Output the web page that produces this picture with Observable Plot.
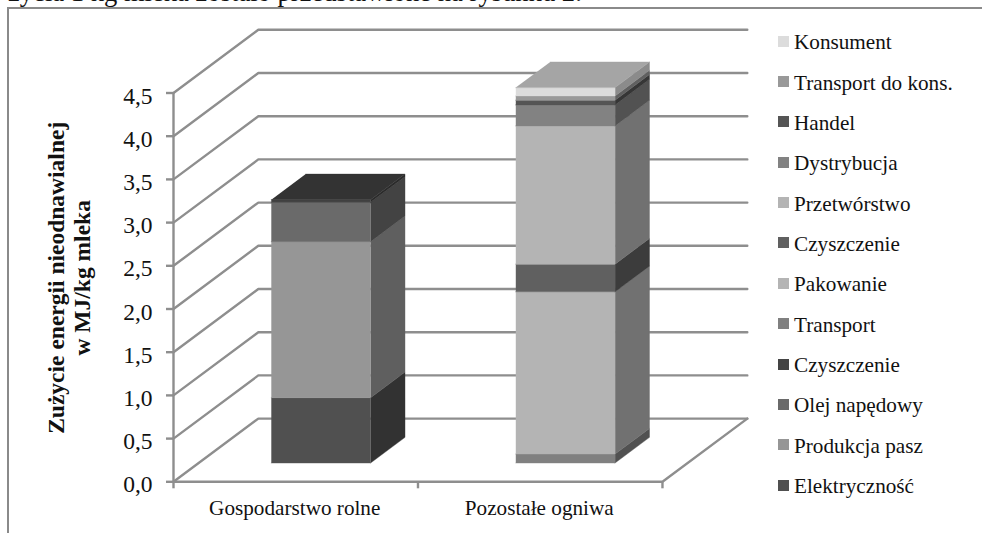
<!DOCTYPE html>
<html>
<head>
<meta charset="utf-8">
<script src="https://cdn.jsdelivr.net/npm/d3@7"></script>
<script src="https://cdn.jsdelivr.net/npm/@observablehq/plot@0.6"></script>
<style>
html,body{margin:0;padding:0;background:#fff;overflow:hidden}
#page{position:relative;width:982px;height:533px;overflow:hidden;font-family:"Liberation Serif",serif;color:#111}
#lead{position:absolute;left:8px;top:-23.5px;font-size:26.6px;line-height:30px;white-space:nowrap}
#frame{position:absolute;left:7px;top:7px;right:-5px;bottom:-5px;border:2px solid #8a8a8a;box-sizing:border-box}
#chart{position:absolute;left:0;top:0}
#chart svg{display:block;background:transparent}
#legend{position:absolute;left:778px;top:22.6px;font-size:21.2px}
#legend div{height:40.35px;display:flex;align-items:center;white-space:nowrap}
#legend i{display:inline-block;width:11px;height:11px;margin-right:5px;position:relative;top:-1.5px}
</style>
</head>
<body>
<div id="page">
  <div id="lead"></div>
  <div id="frame"></div>
  <div id="chart"></div>
  <div id="legend"></div>
</div>
<script>
const leadText = "życia 1 kg mleka zostało przedstawione na rysunku 2.";
const categories = ["Gospodarstwo rolne", "Pozostałe ogniwa"];
const seriesNames = ["Elektryczność","Produkcja pasz","Olej napędowy","Czyszczenie","Transport","Pakowanie","Czyszczenie","Przetwórstwo","Dystrybucja","Handel","Transport do kons.","Konsument"];
const seriesColors = ["#505050","#969696","#6a6a6a","#444444","#808080","#b4b4b4","#606060","#b4b4b4","#828282","#555555","#999999","#dcdcdc"];
const farmValues   = [0.756,1.806,0.455,0.03,0,0,0,0,0,0,0,0];
const otherValues  = [0,0,0,0,0.104,1.878,0.32,1.60,0.243,0.054,0.05,0.096];
const yTicks = [0,0.5,1,1.5,2,2.5,3,3.5,4,4.5];
const yTitle = "Zużycie energii nieodnawialnej\nw MJ/kg mleka";

// oblique depth of the 3-D box, in category units and in value units
const depthX = 0.347, depthY = 0.7315;
const barDepth = [0.297, 0.703], barHalfWidth = 0.203;
const proj = (cat, val, d) => ({x: cat + d * depthX, y: val + d * depthY});
const shade = (c, k) => { const r = d3.rgb(c); return d3.rgb(r.r*k, r.g*k, r.b*k).formatHex(); };

// walls
const gridPts = [];
yTicks.forEach((t, i) => {
  gridPts.push({...proj(0, t, 0), id: "g"+i}, {...proj(0, t, 1), id: "g"+i}, {...proj(2, t, 1), id: "g"+i});
});
gridPts.push({...proj(2, 0, 1), id: "f"}, {...proj(2, 0, 0), id: "f"}, {...proj(0, 0, 0), id: "f"});
const axisPts = [{...proj(0, 0, 0)}, {...proj(0, 4.5, 0)}];

// bars: side, top and front faces
const polys = [];
let n = 0;
const addFace = (pts, fill) => { const id = n++; pts.forEach(p => polys.push({...p, id, fill})); };
[farmValues, otherValues].forEach((vals, ci) => {
  const cx = ci + 0.5, x0 = cx - barHalfWidth, x1 = cx + barHalfWidth, [d0, d1] = barDepth;
  let base = 0, lastColor = null;
  vals.forEach((v, si) => {
    if (!v) return;
    const top = base + v;
    addFace([proj(x1, base, d0), proj(x1, base, d1), proj(x1, top, d1), proj(x1, top, d0)], shade(seriesColors[si], 0.63));
    addFace([proj(x0, base, d0), proj(x1, base, d0), proj(x1, top, d0), proj(x0, top, d0)], seriesColors[si]);
    base = top; lastColor = seriesColors[si];
  });
  addFace([proj(x0, base, d0), proj(x1, base, d0), proj(x1, base, d1), proj(x0, base, d1)], shade(lastColor, 0.75));
});

const gray = "#8e8e8e";
const font = "Liberation Serif";
const plot = Plot.plot({
  width: 982, height: 533,
  marginTop: 29.3, marginLeft: 173, marginRight: 235.2, marginBottom: 51.7,
  style: {fontFamily: font, background: "transparent", color: "#111"},
  x: {domain: [0, 2 + depthX], axis: null},
  y: {domain: [0, 4.5 + depthY], axis: null},
  color: {type: "identity"},
  marks: [
    Plot.line(gridPts, {x: "x", y: "y", z: "id", stroke: gray, strokeWidth: 2.4, strokeLinejoin: "miter"}),
    Plot.line(axisPts, {x: "x", y: "y", stroke: gray, strokeWidth: 2.4}),
    Plot.line(polys, {x: "x", y: "y", z: "id", fill: "fill", stroke: "fill", strokeWidth: 0.4}),
    Plot.axisY({ticks: yTicks, tickSize: 7, stroke: gray, strokeWidth: 2.4, tickFormat: () => "", label: null, anchor: "left"}),
    Plot.axisY({ticks: yTicks, tickSize: 0, tickPadding: 21, dy: 3, fill: "#111", fontSize: 23.5, tickFormat: d => d.toFixed(1).replace(".", ","), label: null, anchor: "left"}),
    Plot.axisX({ticks: [0, 1, 2], tickSize: 7, stroke: gray, strokeWidth: 2.4, tickFormat: () => "", label: null, anchor: "bottom"}),
    Plot.axisX({ticks: [0.5, 1.5], tickSize: 0, tickPadding: 18, dx: -1, fill: "#111", fontSize: 21.2, tickFormat: d => categories[Math.floor(d)], label: null, anchor: "bottom"}),
    Plot.text([yTitle], {frameAnchor: "left", textAnchor: "middle", dx: -105, dy: 22, rotate: -90, fontSize: 23.5, fontWeight: "bold", fill: "#111", lineHeight: 1.12})
  ]
});
document.getElementById("chart").appendChild(plot);
document.getElementById("lead").textContent = leadText;
const legend = document.getElementById("legend");
seriesNames.map((s, i) => [s, seriesColors[i]]).reverse().forEach(([s, c]) => {
  const row = document.createElement("div");
  const sw = document.createElement("i");
  sw.style.background = c;
  row.appendChild(sw);
  row.appendChild(document.createTextNode(s));
  legend.appendChild(row);
});
</script>
</body>
</html>
